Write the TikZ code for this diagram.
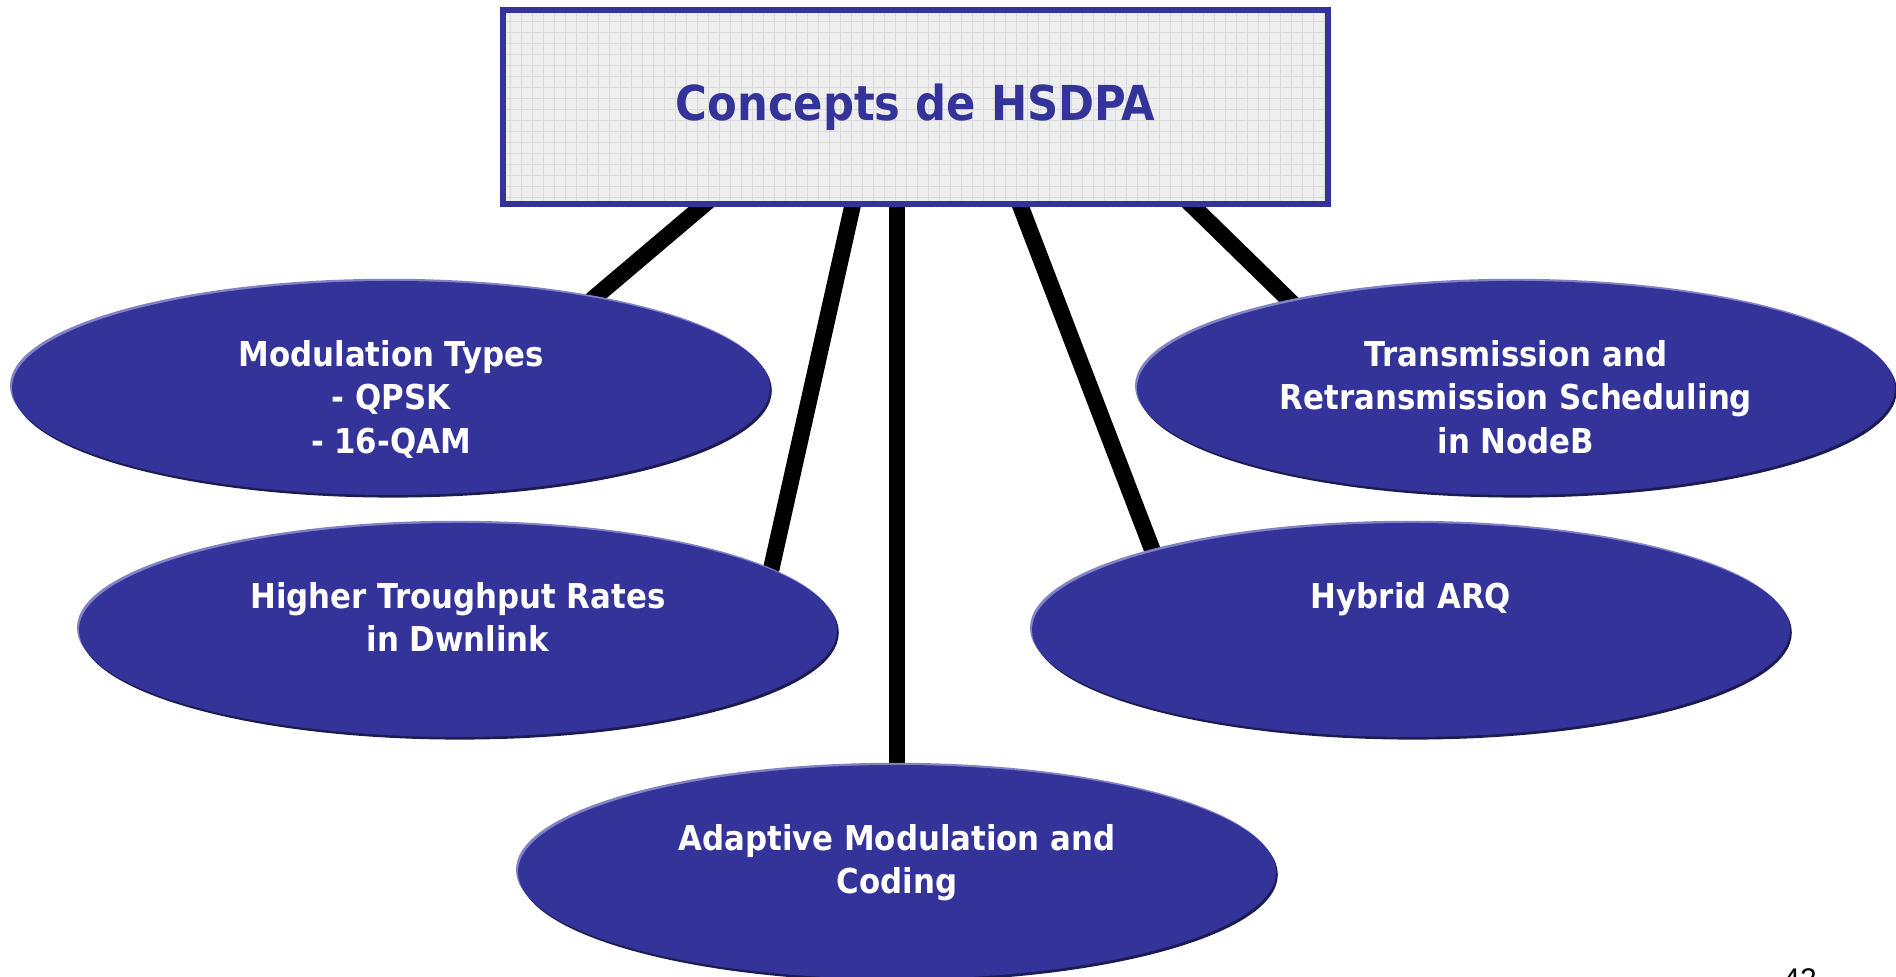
\documentclass[tikz,border=0pt]{standalone}
\usepackage{fontspec}
\setsansfont{DejaVu Sans Condensed}
\newfontfamily\pagefont{Liberation Sans}
\usepackage{tikz}
\usetikzlibrary{shapes.geometric, positioning, calc, backgrounds, shadows}
\definecolor{cBlue}{RGB}{51,51,153}
\definecolor{cPaper}{RGB}{238,238,238}
\definecolor{cGrid}{RGB}{218,218,218}
\definecolor{cShade}{RGB}{28,28,82}
\definecolor{cRim}{RGB}{130,130,200}
\tikzset{
	headbox/.style ={rectangle, draw=cBlue, line width=1.6pt, fill=cPaper, minimum width=8.25cm, minimum height=1.935cm, inner sep=0pt, text=cBlue, font=\sffamily\bfseries\fontsize{13.7}{16}\selectfont,
		path picture={\draw[cGrid, line width=0.3pt, step=0.11cm] (path picture bounding box.south west) grid (path picture bounding box.north east);}},
	topic/.style    ={ellipse, fill=cBlue, minimum width=7.58cm, minimum height=2.14cm, inner sep=0pt,
		general shadow={shadow xshift=-0.02cm, shadow yshift=0.022cm, fill=cRim},
		general shadow={shadow xshift=0.018cm, shadow yshift=-0.026cm, fill=cShade}},
	topictext/.style={anchor=north, align=center, text=white, inner sep=0pt, font=\sffamily\bfseries\fontsize{9.75}{12.4}\selectfont},
	link/.style     ={line width=0.165cm, black, shorten >=-0.1cm},
}
\begin{document}
\begin{tikzpicture}
	\useasboundingbox (0,0) rectangle (18.96,9.77);
	% title
	\node[headbox] (box) at (9.155,8.70) {Concepts de HSDPA};
	% topics
	\node[topic] (mod) at (3.91,5.89) {};
	\node[topic] (hig) at (4.58,3.47) {};
	\node[topic] (ada) at (8.97,1.05) {};
	\node[topic] (tra) at (15.16,5.89) {};
	\node[topic] (hyb) at (14.11,3.47) {};
	\node[topictext] (modtxt) at ([yshift=-0.59cm]mod.north) {Modulation Types\\- QPSK\\- 16-QAM};
	\node[topictext] (higtxt) at ([yshift=-0.59cm]hig.north) {Higher Troughput Rates\\in Dwnlink};
	\node[topictext] (adatxt) at ([yshift=-0.59cm]ada.north) {Adaptive Modulation and\\Coding};
	\node[topictext] (tratxt) at ([yshift=-0.59cm]tra.north) {Transmission and\\Retransmission Scheduling\\in NodeB};
	\node[topictext] (hybtxt) at ([yshift=-0.59cm]hyb.north) {Hybrid ARQ};
	% links behind everything
	\begin{scope}[on background layer]
		\draw[link] ([yshift=0.1cm]$(box.south west)!0.257!(box.south east)$) -- (mod.24);
		\draw[link] ([yshift=0.1cm]$(box.south west)!0.4267!(box.south east)$) -- (hig.11);
		\draw[link] ([yshift=0.1cm]box.south -| ada.north) -- (ada.north);
		\draw[link] ([yshift=0.1cm]$(box.south west)!0.622!(box.south east)$) -- (hyb.163);
		\draw[link] ([yshift=0.1cm]$(box.south west)!0.822!(box.south east)$) -- (tra.159);
	\end{scope}
	% page number, cut by the page edge
	\node[font=\pagefont\fontsize{8.5}{10}\selectfont, anchor=base, inner sep=0pt] (pagenum) at (18.0,-0.125) {42};
\end{tikzpicture}
\end{document}
